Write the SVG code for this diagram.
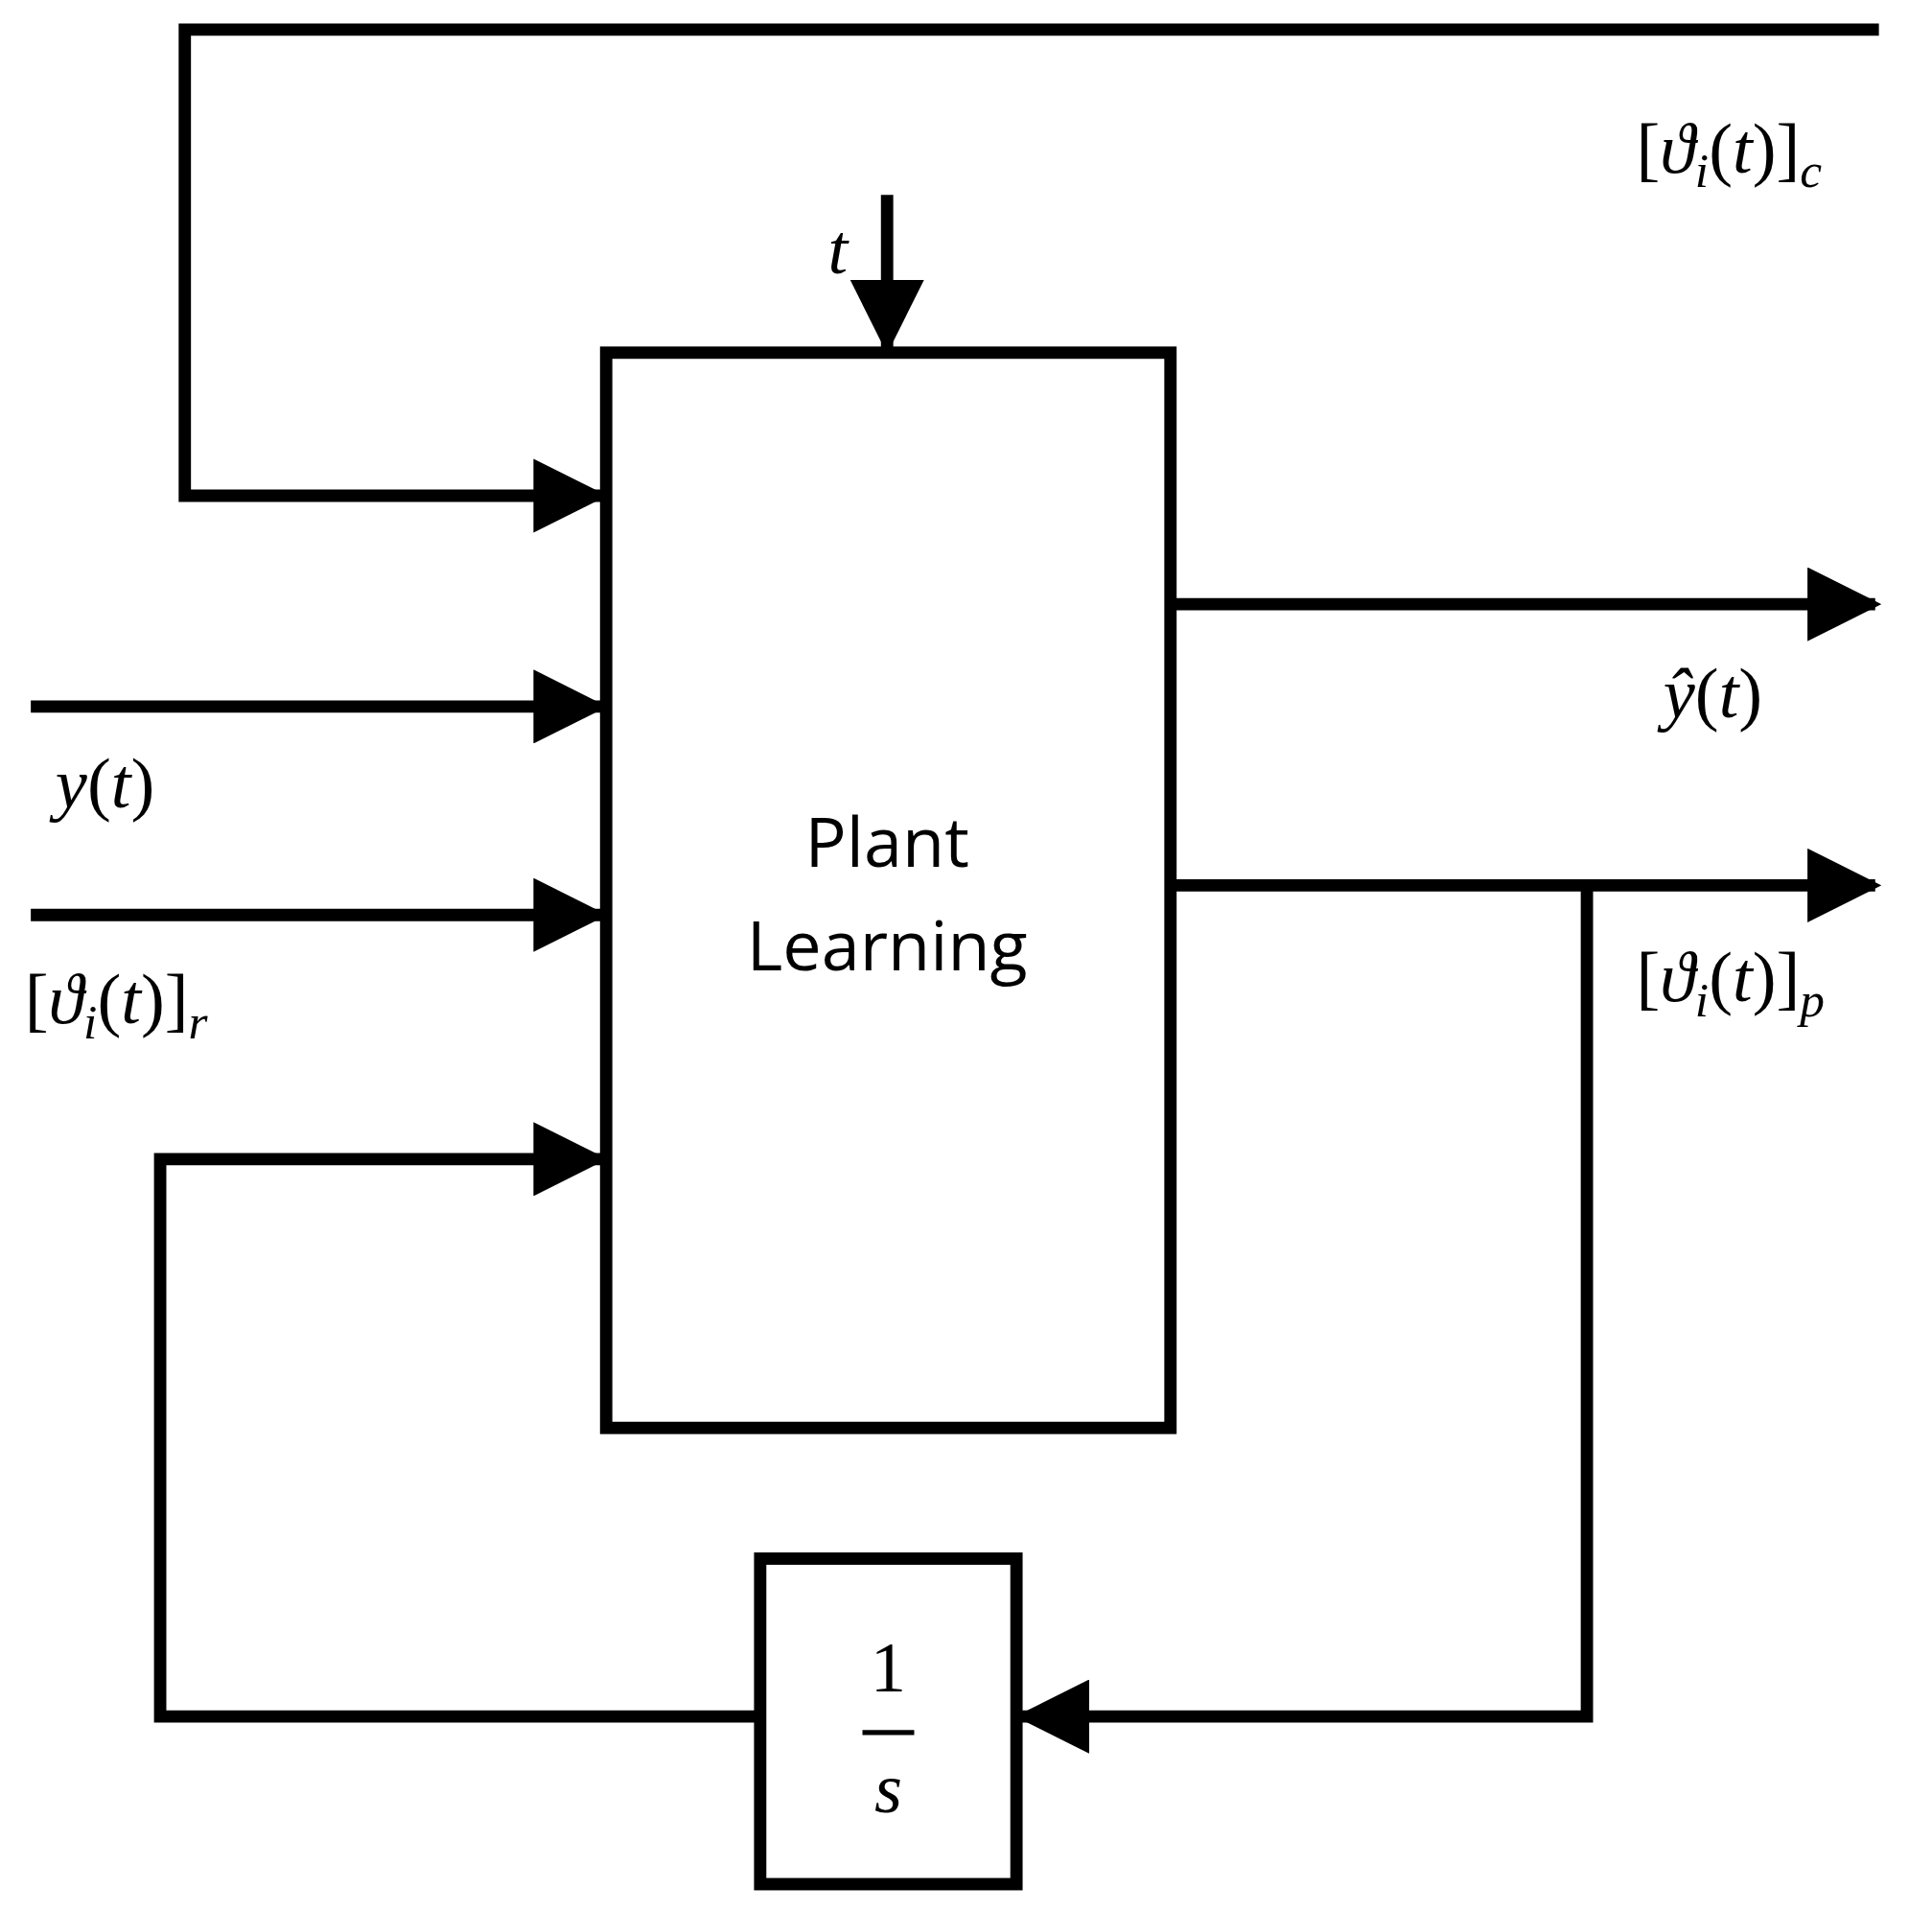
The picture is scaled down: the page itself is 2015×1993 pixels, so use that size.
<svg xmlns="http://www.w3.org/2000/svg" width="2015" height="1993" viewBox="0 0 2015 1993">
<style>
.w{fill:none;stroke:#000;stroke-width:10}
.m{font-family:"Liberation Serif","DejaVu Serif",serif;font-size:58px;font-style:italic;fill:#000}
.u{font-style:normal}
.s{font-size:40px}
.p{font-family:"Open Sans","Liberation Sans",sans-serif;font-size:56px;fill:#000;text-anchor:middle}
</style>
<defs><marker id="a" markerWidth="6" markerHeight="6" refX="5.5" refY="3" orient="auto" markerUnits="strokeWidth" viewBox="0 0 6 6"><path d="M0,0L6,3L0,6z" fill="#000"/></marker></defs>
<rect width="2015" height="1993" fill="#fff"/>
<g transform="scale(1.285,1.286)">
<g id="plant"><rect class="w" x="492" y="286" width="458" height="872"/>
<text class="p" x="720" y="703">Plant</text><text class="p" x="720" y="787">Learning</text></g>
<g id="integrator"><rect class="w" x="617" y="1264" width="208" height="264"/>
<text class="m u" x="721" y="1372" text-anchor="middle">1</text>
<line x1="700" y1="1405" x2="742" y2="1405" stroke="#000" stroke-width="4"/>
<text class="m" x="721" y="1470" text-anchor="middle">s</text></g>
<g id="connectors">
<path class="w" d="M1525,24H150V402H488" marker-end="url(#a)"/>
<path class="w" d="M720,158V282" marker-end="url(#a)"/>
<path class="w" d="M25,573H488" marker-end="url(#a)"/>
<path class="w" d="M25,742H488" marker-end="url(#a)"/>
<path class="w" d="M615,1392H130V940H488" marker-end="url(#a)"/>
<path class="w" d="M950,490H1522" marker-end="url(#a)"/>
<path class="w" d="M950,718H1522" marker-end="url(#a)"/>
<path class="w" d="M1288,718V1392H829" marker-end="url(#a)"/>
</g>
<g id="labels">
<text class="m" x="672" y="222">t</text>
<text class="m" x="45" y="655">y<tspan class="u">(</tspan>t<tspan class="u">)</tspan></text>
<text class="m" x="20" y="830"><tspan class="u">[</tspan>ϑ<tspan class="s" dy="12">i</tspan><tspan class="u" dy="-12">(</tspan>t<tspan class="u">)]</tspan><tspan class="s" dy="12">r</tspan></text>
<text class="m" x="1350" y="582">ŷ<tspan class="u">(</tspan>t<tspan class="u">)</tspan></text>
<text class="m" x="1328" y="140"><tspan class="u">[</tspan>ϑ<tspan class="s" dy="12">i</tspan><tspan class="u" dy="-12">(</tspan>t<tspan class="u">)]</tspan><tspan class="s" dy="12">c</tspan></text>
<text class="m" x="1328" y="812"><tspan class="u">[</tspan>ϑ<tspan class="s" dy="12">i</tspan><tspan class="u" dy="-12">(</tspan>t<tspan class="u">)]</tspan><tspan class="s" dy="12">p</tspan></text>
</g>
</g>
</svg>
